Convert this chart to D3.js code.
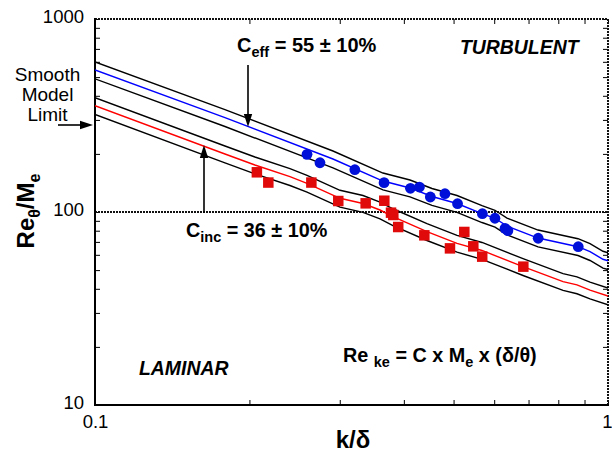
<!DOCTYPE html>
<html>
<head>
<meta charset="utf-8">
<script src="https://cdn.jsdelivr.net/npm/d3@7/dist/d3.min.js"></script>
<style>
  html, body { margin: 0; padding: 0; background: #fff; }
  svg { display: block; }
  text { font-family: "Liberation Sans", Arial, sans-serif; fill: #000; }
</style>
</head>
<body>
<svg id="chart" width="612" height="454"></svg>
<script>
// Effective-roughness correlation line (C = 55) sampled along k/delta
const effLineX = [0.1, 0.1792, 0.2910, 0.3642, 0.4112, 0.4538, 0.5078, 0.5681, 0.6022, 0.6355, 0.7305, 0.8741, 0.9224, 0.9778, 1.0];
const effLineY = [544.3, 308.1, 188.2, 144.7, 133.2, 120.3, 110.7, 98.0, 92.8, 84.6, 73.3, 66.1, 62.3, 56.9, 55.9];

// Incipient-roughness correlation line (C = 36)
const incLineX = [0.1, 0.1792, 0.2050, 0.2399, 0.2590, 0.3003, 0.3330, 0.3594, 0.3809, 0.4437, 0.5078, 0.5681, 0.6829, 0.8173, 0.8700, 0.9224, 1.0];
const incLineY = [355.5, 199.8, 175.2, 152.4, 140.8, 117.8, 110.7, 102.4, 94.5, 79.1, 68.8, 63.2, 52.1, 43.6, 41.9, 39.4, 36.7];

// Uncertainty band (+/- 10 %) applied to both correlations
const bandFactors = [1.10, 0.90];

// Effective transition measurements
const effPtsX = [0.259, 0.2745, 0.321, 0.366, 0.412, 0.429, 0.4505, 0.481, 0.509, 0.569, 0.602, 0.630, 0.638, 0.731, 0.875];
const effPtsY = [199, 180, 165.6, 141.9, 132.7, 134.7, 119.6, 124.4, 110.4, 98.0, 92.8, 82.3, 80.0, 73.1, 66.1];

// Incipient transition measurements
const incPtsX = [0.2068, 0.2177, 0.2641, 0.298, 0.337, 0.3664, 0.3776, 0.3815, 0.390, 0.4385, 0.492, 0.5247, 0.5463, 0.5686, 0.6838];
const incPtsY = [160.6, 142.1, 142.1, 114.0, 110.9, 114.4, 99.2, 96.5, 83.6, 75.7, 64.8, 78.8, 66.4, 58.7, 52.1];

// Axis ticks
const xTickValues = [0.1, 0.2, 0.3, 0.4, 0.5, 0.6, 0.7, 0.8, 0.9, 1];
const xTickLabels = ["0.1", "1"];
const xLabelValues = [0.1, 1];
const yTickValues = [10, 20, 30, 40, 50, 60, 70, 80, 90, 100, 200, 300, 400, 500, 600, 700, 800, 900, 1000];
const yTickLabels = ["10", "100", "1000"];
const yLabelValues = [10, 100, 1000];

const svg = d3.select("#chart");
const L = 95, R = 608, T = 19, B = 405;

const x = d3.scaleLog().domain([0.1, 1]).range([L, R]);
const y = d3.scaleLog().domain([10, 1000]).range([B, T]);

const xLab = new Map(xLabelValues.map((v, i) => [v, xTickLabels[i]]));
const yLab = new Map(yLabelValues.map((v, i) => [v, yTickLabels[i]]));

svg.append("defs").append("clipPath").attr("id", "plot")
  .append("rect").attr("x", L).attr("y", T).attr("width", R - L).attr("height", B - T);

// Inward ticks on all four sides
function styleAxis(g) {
  g.select(".domain").remove();
  g.selectAll(".tick line").attr("stroke", "#000").attr("stroke-width", 1);
}
const gB = svg.append("g").attr("transform", `translate(0,${B})`)
  .call(d3.axisBottom(x).tickValues(xTickValues).tickSize(-5).tickSizeOuter(0)
    .tickFormat(d => xLab.get(d) || ""));
styleAxis(gB);
gB.selectAll(".tick text").attr("y", 22.7).attr("dy", null)
  .style("font-size", "18.5px").attr("fill", "#000");
// keep the last label inside the page edge
gB.selectAll(".tick text").filter(d => d === 1)
  .attr("text-anchor", "end").attr("x", 612 - x(1));

const gT = svg.append("g").attr("transform", `translate(0,${T})`)
  .call(d3.axisTop(x).tickValues(xTickValues).tickSize(-5).tickSizeOuter(0).tickFormat(""));
styleAxis(gT);

const gL = svg.append("g").attr("transform", `translate(${L},0)`)
  .call(d3.axisLeft(y).tickValues(yTickValues).tickSize(-5).tickSizeOuter(0)
    .tickFormat(d => yLab.get(d) || ""));
styleAxis(gL);
gL.selectAll(".tick text").attr("x", -11).attr("dy", null).attr("y", 3.6)
  .style("font-size", "18.5px").attr("fill", "#000");

const gR = svg.append("g").attr("transform", `translate(${R},0)`)
  .call(d3.axisRight(y).tickValues(yTickValues).tickSize(-5).tickSizeOuter(0).tickFormat(""));
styleAxis(gR);

// Frame: solid left/bottom, dotted top/right and the 100 reference line
const dotted = { stroke: "#111", "stroke-width": 2, "stroke-dasharray": "2,1" };
function seg(x1, y1, x2, y2, st) {
  const l = svg.append("line").attr("x1", x1).attr("y1", y1).attr("x2", x2).attr("y2", y2);
  Object.entries(st).forEach(([k, v]) => l.attr(k, v));
  return l;
}
seg(L, y(100), R, y(100), dotted);
seg(L, T, R, T, dotted);
seg(R, T, R, B, dotted);
seg(L, T - 1, L, B + 1, { stroke: "#000", "stroke-width": 2 });
seg(L - 1, B, R + 1, B, { stroke: "#000", "stroke-width": 2 });

// Correlation lines with their +/- 10 % bands
const line = d3.line().x(d => x(d[0])).y(d => y(d[1]));
const lines = svg.append("g").attr("clip-path", "url(#plot)").attr("fill", "none");
function drawSet(xs, ys, color) {
  bandFactors.forEach(f => {
    lines.append("path").datum(xs.map((v, i) => [v, ys[i] * f]))
      .attr("d", line).attr("stroke", "#000").attr("stroke-width", 1.4);
  });
  lines.append("path").datum(xs.map((v, i) => [v, ys[i]]))
    .attr("d", line).attr("stroke", color).attr("stroke-width", 1.4);
}
drawSet(effLineX, effLineY, "#0000ff");
drawSet(incLineX, incLineY, "#ff0000");

// Measurements
svg.append("g").selectAll("circle").data(effPtsX.map((v, i) => [v, effPtsY[i]]))
  .join("circle").attr("cx", d => x(d[0])).attr("cy", d => y(d[1])).attr("r", 5.4)
  .attr("fill", "#0010d8");
const sq = 10.5;
svg.append("g").selectAll("rect").data(incPtsX.map((v, i) => [v, incPtsY[i]]))
  .join("rect").attr("x", d => x(d[0]) - sq / 2).attr("y", d => y(d[1]) - sq / 2)
  .attr("width", sq).attr("height", sq).attr("fill", "#e00a0a");

// Arrows
function arrow(x1, y1, x2, y2) {
  const ang = Math.atan2(y2 - y1, x2 - x1), hl = 13, hw = 4.2;
  const bx = x2 - hl * Math.cos(ang), by = y2 - hl * Math.sin(ang);
  svg.append("line").attr("x1", x1).attr("y1", y1).attr("x2", bx).attr("y2", by)
    .attr("stroke", "#000").attr("stroke-width", 1.6);
  const px = -Math.sin(ang) * hw, py = Math.cos(ang) * hw;
  svg.append("path")
    .attr("d", `M${x2},${y2}L${bx + px},${by + py}L${bx - px},${by - py}Z`)
    .attr("fill", "#000");
}
arrow(248, 65, 248, 127);
arrow(58, 125, 93, 125);
arrow(204, 213, 204, 145);

// Annotations
function rich(xp, yp, parts, size, opts = {}) {
  const t = svg.append("text").attr("x", xp).attr("y", yp)
    .style("font-size", size + "px").style("font-weight", opts.weight || "bold");
  if (opts.style) t.style("font-style", opts.style);
  if (opts.anchor) t.attr("text-anchor", opts.anchor);
  if (opts.transform) t.attr("transform", opts.transform);
  let shift = 0;
  parts.forEach(p => {
    const s = t.append("tspan").text(p.t);
    const target = p.sub ? (opts.subDrop || 5) : 0;
    if (target !== shift) { s.attr("dy", target - shift); shift = target; }
    if (p.sub) s.style("font-size", (opts.subSize || 14.5) + "px");
  });
  return t;
}
rich(237, 52, [{ t: "C" }, { t: "eff", sub: true }, { t: " = 55 ± 10%" }], 20);
rich(186, 237, [{ t: "C" }, { t: "inc", sub: true }, { t: " = 36 ± 10%" }], 19.8);
rich(343, 362, [{ t: "Re " }, { t: "ke", sub: true }, { t: " = C x M" }, { t: "e", sub: true }, { t: " x (δ/θ)" }], 19.8);
rich(460, 54, [{ t: "TURBULENT" }], 19.4, { style: "italic" });
rich(139, 375, [{ t: "LAMINAR" }], 19.4, { style: "italic" });

["Smooth", "Model", "Limit"].forEach((s, i) => {
  svg.append("text").attr("x", 47.5).attr("y", 81 + i * 20).attr("text-anchor", "middle")
    .style("font-size", "19px").text(s);
});

// Axis titles
svg.append("text").attr("x", 353).attr("y", 448).attr("text-anchor", "middle")
  .style("font-size", "24px").style("font-weight", "bold").text("k/δ");
rich(0, 0, [{ t: "Re" }, { t: "θ", sub: true }, { t: "/M" }, { t: "e", sub: true }], 24,
  { anchor: "middle", transform: "translate(34,211) rotate(-90)", subSize: 16, subDrop: 6 });
</script>
</body>
</html>
